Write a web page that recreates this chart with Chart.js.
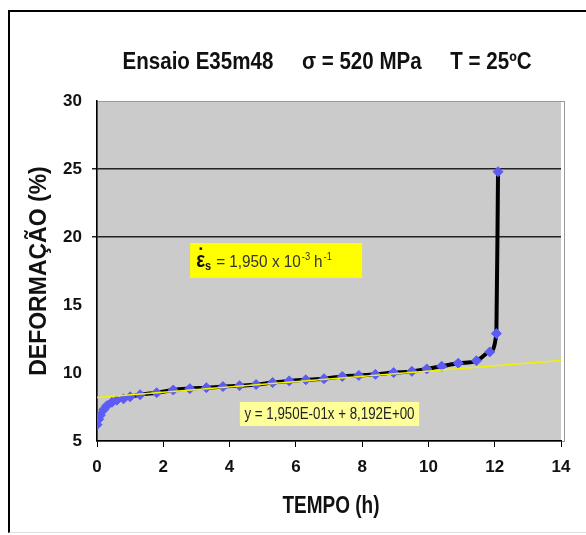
<!DOCTYPE html>
<html>
<head>
<meta charset="utf-8">
<script src="https://cdn.jsdelivr.net/npm/chart.js@4"></script>
<style>
  html, body { margin: 0; padding: 0; background: #fff; }
  .frame {
    position: absolute; left: 8px; top: 10px; width: 600px; height: 520px;
    border-left: 2px solid #000; border-top: 2px solid #000; border-bottom: 1px solid #ddd;
  }
  .wrap { position: absolute; left: 0; top: 0; width: 586px; height: 535px; }
</style>
</head>
<body>
<div class="frame"></div>
<div class="wrap"><canvas id="chart"></canvas></div>
<script>
// Creep test E35m48 - strain vs time
const tempo = [0, 0.05, 0.1, 0.2, 0.3, 0.45, 0.6, 0.8, 1.0, 1.3, 1.8, 2.3, 2.8, 3.3, 3.8, 4.3, 4.8, 5.3, 5.8,
  6.3, 6.85, 7.4, 7.9, 8.4, 8.95, 9.5, 9.95, 10.4, 10.9, 11.45, 11.85, 12.05, 12.1];
const deformacao = [6.2, 6.6, 6.9, 7.3, 7.6, 7.85, 8.0, 8.1, 8.25, 8.4, 8.55, 8.75, 8.85, 8.92, 9.0, 9.07, 9.15, 9.3, 9.42,
  9.5, 9.58, 9.75, 9.82, 9.9, 10.03, 10.12, 10.3, 10.5, 10.72, 10.9, 11.55, 12.9, 24.8];

// linear trendline endpoints (y = 1,950E-01x + 8,192E+00)
const trendX = [0, 14];
const trendY = [8.192, 10.922];

const xTicks = [0, 2, 4, 6, 8, 10, 12, 14];
const yTicks = [5, 10, 15, 20, 25, 30];
const gridValues = [20, 25];

const sans = "'Liberation Sans', Arial, sans-serif";

const toPoints = (xs, ys) => xs.map((x, i) => ({ x: x, y: ys[i] }));

// draw text squeezed horizontally by factor k, returns drawn width
function squeezed(ctx, text, x, y, k) {
  ctx.save();
  ctx.translate(x, y);
  ctx.scale(k, 1);
  ctx.fillText(text, 0, 0);
  ctx.restore();
  return ctx.measureText(text).width * k;
}

const decorPlugin = {
  id: 'decor',
  beforeDraw(chart) {
    const { ctx, chartArea: a } = chart;
    ctx.save();
    ctx.fillStyle = '#cbcbcb';
    ctx.fillRect(a.left, a.top, a.right - a.left, a.bottom - a.top);
    ctx.strokeStyle = '#9a9a9a';
    ctx.lineWidth = 1;
    ctx.strokeRect(a.left + 0.5, a.top + 0.5, a.right - a.left + 3, a.bottom - a.top);
    ctx.restore();
  },
  afterDraw(chart) {
    const { ctx, chartArea: a, scales } = chart;
    const sx = scales.x, sy = scales.y;
    ctx.save();

    // title, squeezed to the narrow look of the original
    ctx.fillStyle = '#111';
    ctx.font = 'bold 23px ' + sans;
    ctx.textAlign = 'center';
    ctx.textBaseline = 'middle';
    const title = 'Ensaio E35m48     \u03c3 = 520 MPa     T = 25\u00baC';
    squeezed(ctx, title, (a.left + a.right) / 2 - 2, 63, 409 / ctx.measureText(title).width);

    // x axis title
    const xt = 'TEMPO (h)';
    squeezed(ctx, xt, 331, 507, 97 / ctx.measureText(xt).width);

    // secondary creep rate box
    let x1 = sx.getPixelForValue(2.81), x2 = sx.getPixelForValue(8.0);
    let y1 = sy.getPixelForValue(19.56), y2 = sy.getPixelForValue(17.0);
    ctx.fillStyle = '#ffff00';
    ctx.fillRect(x1, y1, x2 - x1, y2 - y1);
    let tx = x1 + 6, ty = (y1 + y2) / 2 + 7;
    ctx.textAlign = 'left';
    ctx.textBaseline = 'alphabetic';
    ctx.fillStyle = '#111';
    ctx.font = 'bold 22px ' + sans;
    const ew = squeezed(ctx, '\u03b5', tx, ty, 0.85);
    ctx.fillRect(tx + ew / 2 - 1, ty - 20, 2.5, 2.5);
    ctx.font = 'bold 13px ' + sans;
    let cx = tx + ew + squeezed(ctx, 's', tx + ew, ty + 3, 0.85) + 5;
    ctx.fillStyle = '#333';
    ctx.font = '17px ' + sans;
    cx += squeezed(ctx, '= 1,950 x 10', cx, ty, 0.9);
    ctx.font = '11px ' + sans;
    cx += squeezed(ctx, '-3', cx + 1, ty - 7, 0.85) + 5;
    ctx.font = '17px ' + sans;
    cx += squeezed(ctx, 'h', cx, ty, 0.9);
    ctx.font = '11px ' + sans;
    squeezed(ctx, '-1', cx + 1, ty - 7, 0.85);

    // trendline equation box
    x1 = sx.getPixelForValue(4.31); x2 = sx.getPixelForValue(9.72);
    y1 = sy.getPixelForValue(7.87); y2 = sy.getPixelForValue(6.1);
    ctx.fillStyle = '#ffff99';
    ctx.fillRect(x1, y1, x2 - x1, y2 - y1);
    ctx.fillStyle = '#222';
    ctx.font = '16px ' + sans;
    ctx.textBaseline = 'middle';
    const eq = 'y = 1,950E-01x + 8,192E+00';
    squeezed(ctx, eq, (x1 + x2) / 2 - 85, (y1 + y2) / 2 + 1, 170 / ctx.measureText(eq).width);
    ctx.restore();
  }
};

const ctx = document.getElementById('chart').getContext('2d');
new Chart(ctx, {
  type: 'scatter',
  data: {
    datasets: [
      {
        label: 'Tendência',
        data: toPoints(trendX, trendY),
        showLine: true,
        borderColor: '#f2f200',
        borderWidth: 1.5,
        pointRadius: 0
      },
      {
        label: 'E35m48',
        data: toPoints(tempo, deformacao),
        showLine: true,
        borderColor: '#000',
        borderWidth: 4,
        cubicInterpolationMode: 'monotone',
        pointStyle: 'rectRot',
        pointRadius: 5,
        pointBackgroundColor: '#5c5cf5',
        pointBorderColor: '#5c5cf5',
        pointBorderWidth: 1
      }
    ]
  },
  options: {
    responsive: true,
    maintainAspectRatio: false,
    animation: false,
    layout: { padding: { left: 26, top: 101, right: 25, bottom: 0 } },
    plugins: {
      legend: { display: false },
      tooltip: { enabled: false },
      title: { display: false }
    },
    scales: {
      x: {
        type: 'linear',
        min: 0,
        max: 14,
        afterFit: (s) => { s.height = 94; },
        afterBuildTicks: (s) => { s.ticks = xTicks.map(v => ({ value: v })); },
        border: { display: true, color: '#000', width: 1.5 },
        grid: { drawOnChartArea: false, drawTicks: true, tickLength: 6, color: '#000' },
        ticks: { padding: 10, color: '#111', font: { family: sans, size: 17, weight: 'bold' } },
        title: { display: false }
      },
      y: {
        type: 'linear',
        min: 5,
        max: 30,
        afterFit: (s) => { s.width = 71; },
        afterBuildTicks: (s) => { s.ticks = yTicks.map(v => ({ value: v })); },
        border: { display: true, color: '#000', width: 1.5 },
        grid: {
          drawTicks: true,
          tickLength: 5,
          lineWidth: 1.5,
          color: (c) => gridValues.includes(c.tick && c.tick.value) ? '#222' : 'rgba(0,0,0,0)'
        },
        ticks: { padding: 10, color: '#111', font: { family: sans, size: 17, weight: 'bold' } },
        title: {
          display: true,
          text: 'DEFORMAÇÃO (%)',
          color: '#111',
          padding: { top: 0, bottom: 0 },
          font: { family: sans, size: 23, weight: 'bold' }
        }
      }
    }
  },
  plugins: [decorPlugin]
});
</script>
</body>
</html>
